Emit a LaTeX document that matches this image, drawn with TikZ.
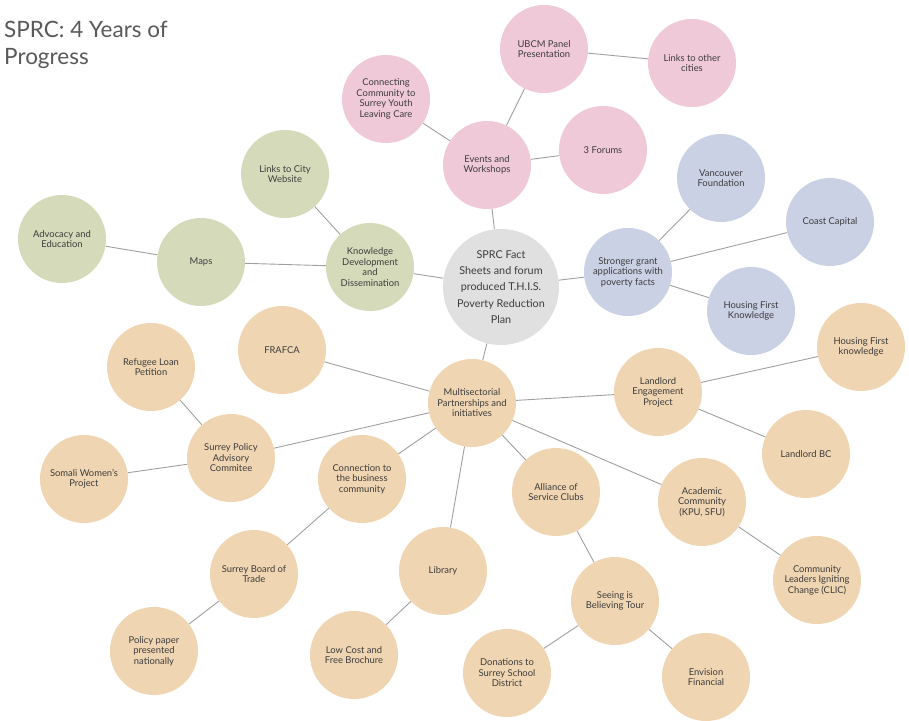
\documentclass[tikz,border=0pt]{standalone}
\usepackage{fontspec}
\setmainfont{Lato}
\definecolor{pinkbub}{HTML}{F0C9D8}
\definecolor{greenbub}{HTML}{D5DBBA}
\definecolor{bluebub}{HTML}{CBD1E5}
\definecolor{orangebub}{HTML}{F0D5B2}
\definecolor{greybub}{HTML}{E0E0E0}
\definecolor{linkgrey}{HTML}{A0A0A0}
\definecolor{textgrey}{HTML}{3C3C3C}
\tikzset{
    bubble/.style={circle, minimum size=88pt, inner sep=0pt, align=center,
        text=textgrey, font=\fontsize{9.4}{10.5}\selectfont},
    hub/.style={bubble, minimum size=116pt, fill=greybub,
        font=\fontsize{10.8}{16.3}\selectfont},
    link/.style={draw=linkgrey, line width=0.9pt}
}
\begin{document}
\begin{tikzpicture}[x=1pt,y=-1pt]
    \useasboundingbox[fill=white] (0,0) rectangle (909,720);
    \node[anchor=north west, align=left, text=black!65, inner sep=0pt,
        font=\fontsize{22.5}{27}\selectfont] (title) at (4,21) {SPRC: 4 Years of\\Progress};

    % centre
    \node[hub] (plan) at (501,287) {SPRC Fact\\Sheets and forum\\produced T.H.I.S.\\Poverty Reduction\\Plan};

    % events
    \node[bubble, fill=pinkbub] (events) at (487,165) {Events and\\Workshops};
    \node[bubble, fill=pinkbub] (ubcm) at (544,49) {UBCM Panel\\Presentation};
    \node[bubble, fill=pinkbub] (cities) at (692,63) {Links to other\\cities};
    \node[bubble, fill=pinkbub] (youth) at (386,99) {Connecting\\Community to\\Surrey Youth\\Leaving Care};
    \node[bubble, fill=pinkbub] (forums) at (603,150) {3 Forums};

    % knowledge
    \node[bubble, fill=greenbub] (knowledge) at (370,267) {Knowledge\\Development\\and\\Dissemination};
    \node[bubble, fill=greenbub] (website) at (285,174) {Links to City\\Website};
    \node[bubble, fill=greenbub] (maps) at (201,262) {Maps};
    \node[bubble, fill=greenbub] (advocacy) at (62,239) {Advocacy and\\Education};

    % grants
    \node[bubble, fill=bluebub] (grants) at (628,272) {Stronger grant\\applications with\\poverty facts};
    \node[bubble, fill=bluebub] (vancouver) at (721,178) {Vancouver\\Foundation};
    \node[bubble, fill=bluebub] (coast) at (830,222) {Coast Capital};
    \node[bubble, fill=bluebub] (housingb) at (751,311) {Housing First\\Knowledge};

    % partnerships
    \node[bubble, fill=orangebub] (multi) at (472,403) {Multisectorial\\Partnerships and\\initiatives};
    \node[bubble, fill=orangebub] (frafca) at (282,350) {FRAFCA};
    \node[bubble, fill=orangebub] (policy) at (231,458) {Surrey Policy\\Advisory\\Commitee};
    \node[bubble, fill=orangebub] (refugee) at (151,367) {Refugee Loan\\Petition};
    \node[bubble, fill=orangebub] (somali) at (84,479) {Somali Women’s\\Project};
    \node[bubble, fill=orangebub] (business) at (362,479) {Connection to\\the business\\community};
    \node[bubble, fill=orangebub] (trade) at (254,574) {Surrey Board of\\Trade};
    \node[bubble, fill=orangebub] (paper) at (154,651) {Policy paper\\presented\\nationally};
    \node[bubble, fill=orangebub] (library) at (443,571) {Library};
    \node[bubble, fill=orangebub] (brochure) at (354,655) {Low Cost and\\Free Brochure};
    \node[bubble, fill=orangebub] (alliance) at (556,492) {Alliance of\\Service Clubs};
    \node[bubble, fill=orangebub] (tour) at (615,601) {Seeing is\\Believing Tour};
    \node[bubble, fill=orangebub] (donations) at (507,673) {Donations to\\Surrey School\\District};
    \node[bubble, fill=orangebub] (envision) at (706,677) {Envision\\Financial};
    \node[bubble, fill=orangebub] (academic) at (702,502) {Academic\\Community\\(KPU, SFU)};
    \node[bubble, fill=orangebub] (clic) at (817,580) {Community\\Leaders Igniting\\Change (CLIC)};
    \node[bubble, fill=orangebub] (landlord) at (658,392) {Landlord\\Engagement\\Project};
    \node[bubble, fill=orangebub] (housingo) at (861,347) {Housing First\\knowledge};
    \node[bubble, fill=orangebub] (landbc) at (806,454) {Landlord BC};

    % links
    \draw[link] (plan) -- (events);
    \draw[link] (events) -- (ubcm);
    \draw[link] (ubcm) -- (cities);
    \draw[link] (events) -- (youth);
    \draw[link] (events) -- (forums);
    \draw[link] (plan) -- (knowledge);
    \draw[link] (knowledge) -- (website);
    \draw[link] (knowledge) -- (maps);
    \draw[link] (maps) -- (advocacy);
    \draw[link] (plan) -- (grants);
    \draw[link] (grants) -- (vancouver);
    \draw[link] (grants) -- (coast);
    \draw[link] (grants) -- (housingb);
    \draw[link] (plan) -- (multi);
    \draw[link] (multi) -- (frafca);
    \draw[link] (multi) -- (policy);
    \draw[link] (policy) -- (refugee);
    \draw[link] (policy) -- (somali);
    \draw[link] (multi) -- (business);
    \draw[link] (business) -- (trade);
    \draw[link] (trade) -- (paper);
    \draw[link] (multi) -- (library);
    \draw[link] (library) -- (brochure);
    \draw[link] (multi) -- (alliance);
    \draw[link] (alliance) -- (tour);
    \draw[link] (tour) -- (donations);
    \draw[link] (tour) -- (envision);
    \draw[link] (multi) -- (academic);
    \draw[link] (academic) -- (clic);
    \draw[link] (multi) -- (landlord);
    \draw[link] (landlord) -- (housingo);
    \draw[link] (landlord) -- (landbc);
\end{tikzpicture}
\end{document}
